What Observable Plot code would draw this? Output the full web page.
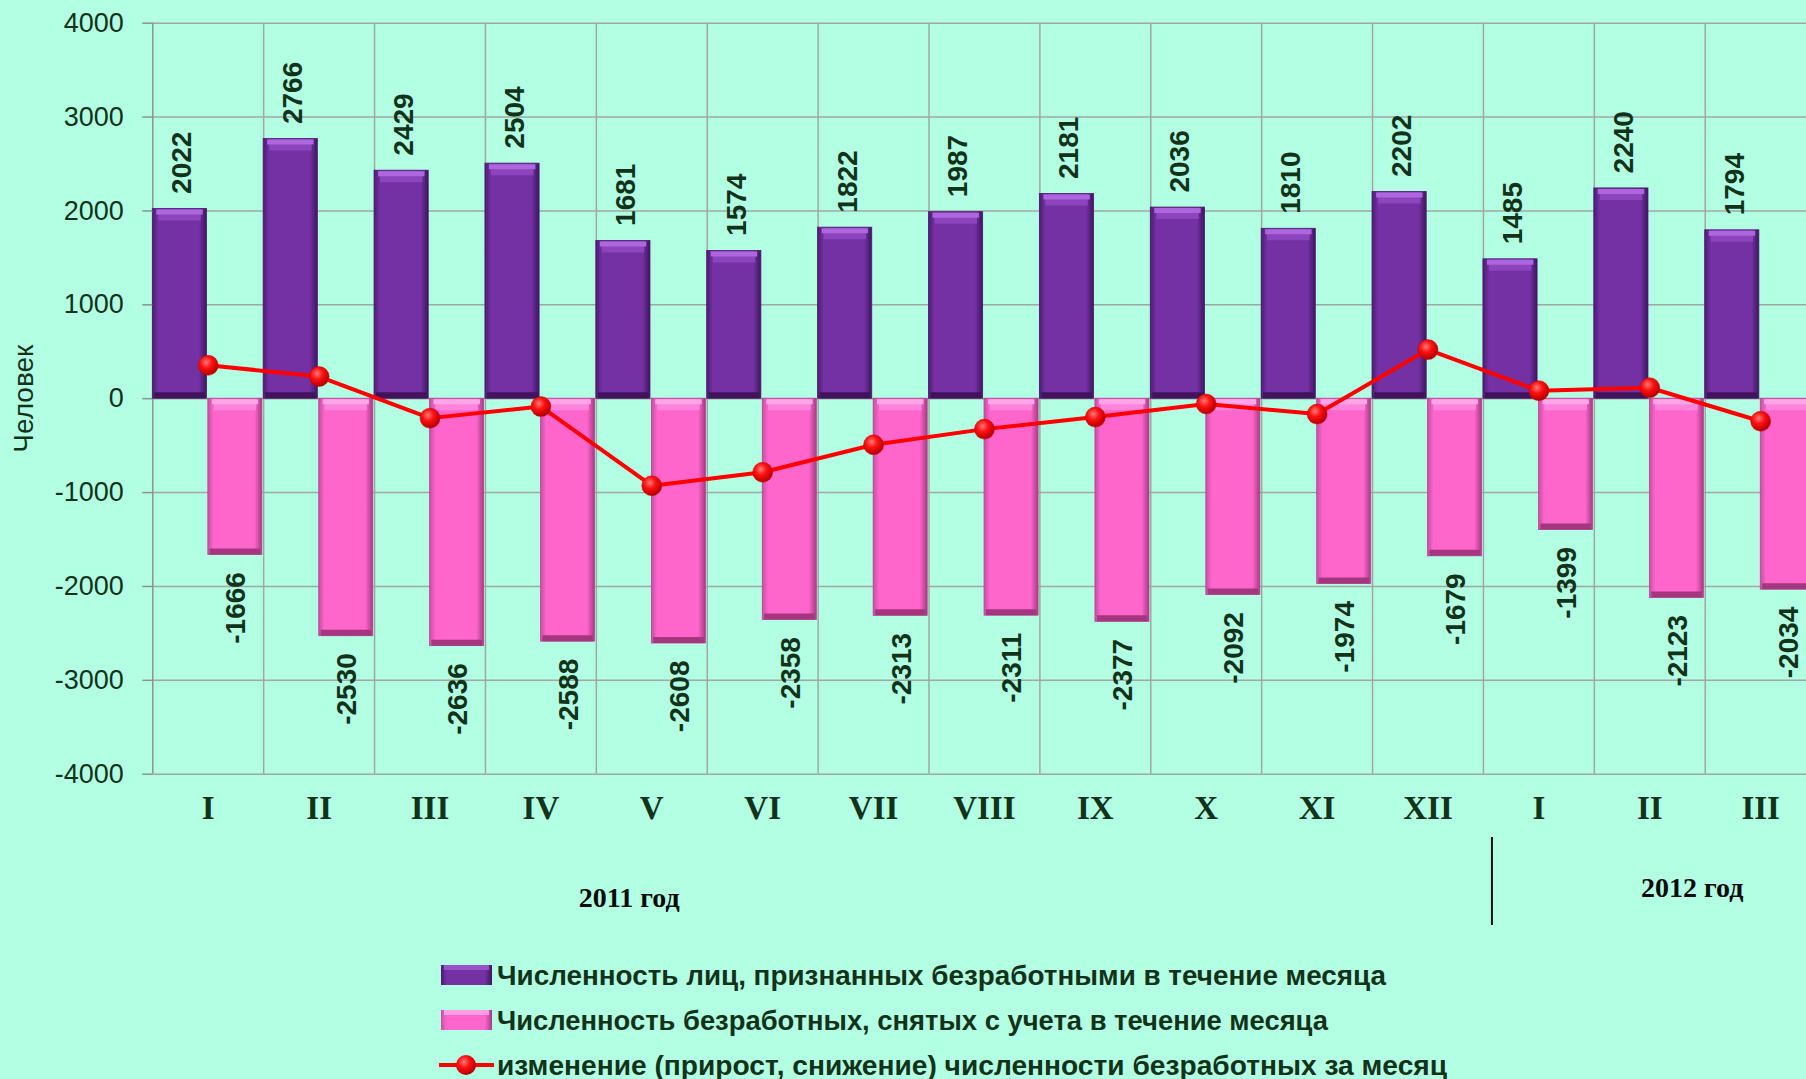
<!DOCTYPE html>
<html>
<head>
<meta charset="utf-8">
<script src="https://cdn.jsdelivr.net/npm/d3@7"></script>
<script src="https://cdn.jsdelivr.net/npm/@observablehq/plot@0.6"></script>
<style>
  html, body { margin: 0; padding: 0; background: #b3ffe3; overflow: hidden; }
  #chart svg { display: block; }
  #legend { display: block; }
</style>
</head>
<body>
<div id="chart"></div>
<svg id="legend" width="1806" height="139"></svg>
<script>
// ---- data ----
const months = ["I","II","III","IV","V","VI","VII","VIII","IX","X","XI","XII","I","II","III"];
const yearOf = [2011,2011,2011,2011,2011,2011,2011,2011,2011,2011,2011,2011,2012,2012,2012];
const registered = [2022,2766,2429,2504,1681,1574,1822,1987,2181,2036,1810,2202,1485,2240,1794];
const removed = [-1666,-2530,-2636,-2588,-2608,-2358,-2313,-2311,-2377,-2092,-1974,-1679,-1399,-2123,-2034];
const change = [356,236,-207,-84,-927,-784,-491,-324,-196,-56,-164,523,86,117,-240];
const yTicks = [-4000,-3000,-2000,-1000,0,1000,2000,3000,4000];
const yearLabels = [{key: "2011-V", text: "2011 год"}, {key: "2012-II", text: "2012 год"}];
const legendLabels = [
  "Численность лиц, признанных безработными в течение месяца",
  "Численность безработных, снятых с учета в течение месяца",
  "изменение (прирост, снижение) численности безработных за месяц"
];

const keys = months.map((m, i) => `${yearOf[i]}-${m}`);
const rows = keys.map((k, i) => ({key: k, reg: registered[i], rem: removed[i], chg: change[i]}));

// ---- layout ----
const X0 = 152.3, X1 = 1815.6;
const bw = (X1 - X0) / keys.length;
const gridColor = "#9ea8a2";
const textColor = "#12331a";
const purpleIn = {insetLeft: 0, insetRight: bw / 2 + 1.3};
const pinkIn = {insetLeft: bw / 2 + 0.1, insetRight: 1.3};

const chart = Plot.plot({
  width: 1806,
  height: 940,
  marginLeft: X0, marginTop: 22.7, marginBottom: 166.3, marginRight: 0,
  style: {background: "transparent", fontFamily: "Liberation Sans, Arial, sans-serif", overflow: "visible"},
  x: {type: "band", domain: keys, range: [X0, X1], padding: 0, round: false},
  y: {domain: [-4000, 4000], range: [773.7, 22.7]},
  marks: [
    Plot.ruleY(yTicks, {stroke: gridColor, strokeWidth: 1.5}),
    Plot.ruleX(keys.slice(1), {dx: -bw / 2, stroke: gridColor, strokeWidth: 1.5}),
    Plot.ruleX(keys.slice(0, 1), {dx: -bw / 2, stroke: "#8a948f", strokeWidth: 1.5}),
    // bars
    Plot.barY(rows, {x: "key", y: "reg", fill: "url(#gPurple)", stroke: "#4a1a6c", strokeWidth: 0.8, ...purpleIn}),
    Plot.barY(rows, {x: "key", y: "rem", fill: "url(#gPink)", stroke: "#b8428f", strokeWidth: 0.8, ...pinkIn}),
    // bevel highlights
    Plot.tickY(rows, {x: "key", y: "reg", dy: 6, stroke: "#8c45bd", strokeWidth: 11, insetLeft: 6, insetRight: bw / 2 + 7}),
    Plot.tickY(rows, {x: "key", y: "reg", dy: 3, stroke: "#ad66dd", strokeWidth: 5, insetLeft: 4, insetRight: bw / 2 + 5}),
    Plot.tickY(rows, {x: "key", y: 0, dy: -3.5, stroke: "#40135c", strokeWidth: 6, insetLeft: 2, insetRight: bw / 2 + 3}),
    Plot.tickY(rows, {x: "key", y: 0, dy: 6, stroke: "#ff85dc", strokeWidth: 11, insetLeft: bw / 2 + 6, insetRight: 7}),
    Plot.tickY(rows, {x: "key", y: 0, dy: 3, stroke: "#ffa6ea", strokeWidth: 5, insetLeft: bw / 2 + 4, insetRight: 5}),
    Plot.tickY(rows, {x: "key", y: "rem", dy: -3.5, stroke: "#a3367f", strokeWidth: 6, insetLeft: bw / 2 + 2, insetRight: 3}),
    // change line
    Plot.lineY(rows, {x: "key", y: "chg", stroke: "#ff0000", strokeWidth: 4}),
    Plot.dot(rows, {x: "key", y: "chg", r: 10, fill: "url(#gRed)", stroke: "#d00000", strokeWidth: 0.5}),
    // value labels
    Plot.text(rows, {x: "key", y: "reg", text: d => `${d.reg}`, rotate: -90, textAnchor: "start", dx: -26, dy: -15,
      fontSize: 28, fontWeight: "bold", fill: textColor}),
    Plot.text(rows, {x: "key", y: "rem", text: d => `${d.rem}`, rotate: -90, textAnchor: "end", dx: 28, dy: 17,
      fontSize: 28, fontWeight: "bold", fill: textColor}),
    // axes
    Plot.axisY({ticks: yTicks, tickSize: 10, tickPadding: 19, fontSize: 27, tickFormat: d => `${d}`,
      stroke: "#8a948f", fill: textColor, strokeWidth: 1.5, label: null}),
    Plot.axisX({tickSize: 0, tickPadding: 21, fontSize: 33, fontWeight: "bold", fontFamily: "Liberation Serif, Times New Roman, serif",
      tickFormat: k => k.split("-")[1], fill: textColor, label: null}),
    Plot.text(["Человек"], {frameAnchor: "left", textAnchor: "middle", dx: -129, rotate: -90, fontSize: 28, fill: textColor})
  ]
});
document.getElementById("chart").appendChild(chart);

// gradients
function addDefs(svg) {
  const defs = svg.insert("defs", ":first-child");
  const lin = (id, stops) => {
    const g = defs.append("linearGradient").attr("id", id).attr("x1", 0).attr("x2", 1).attr("y1", 0).attr("y2", 0);
    stops.forEach(([o, c]) => g.append("stop").attr("offset", o).attr("stop-color", c));
  };
  lin("gPurple", [["0%", "#4c1c70"], ["11%", "#7331a3"], ["86%", "#7331a3"], ["100%", "#3f1560"]]);
  lin("gPink", [["0%", "#c64ea3"], ["11%", "#ff66cc"], ["86%", "#ff66cc"], ["100%", "#a83a84"]]);
  const r = defs.append("radialGradient").attr("id", "gRed").attr("cx", "40%").attr("cy", "35%").attr("r", "65%");
  [["0%", "#ff7a7a"], ["45%", "#ff1010"], ["100%", "#b00000"]].forEach(([o, c]) => r.append("stop").attr("offset", o).attr("stop-color", c));
}
const svgSel = d3.select(chart);
addDefs(svgSel);

// year labels, positioned with the x scale
const xs = chart.scale("x");
const yLab = [[yearLabels[0], -22, 907], [yearLabels[1], 43, 897]];
yLab.forEach(([d, dx, y]) => {
  svgSel.append("text").attr("x", xs.apply(d.key) + bw / 2 + dx).attr("y", y).attr("text-anchor", "middle")
    .attr("font-family", "Liberation Serif, Times New Roman, serif").attr("font-weight", "bold").attr("font-size", 28)
    .attr("fill", "#0a0a0a").text(d.text);
});
// separator between years
const sepX = xs.apply("2012-I") + 9;
svgSel.append("line").attr("x1", sepX).attr("x2", sepX).attr("y1", 837).attr("y2", 925)
  .attr("stroke", "#111").attr("stroke-width", 2);

// legend
const leg = d3.select("#legend");
addDefs(leg);
const rowsY = [35, 80, 125];
const lens = [889, 831, 950];
leg.append("rect").attr("x", 441).attr("y", rowsY[0] - 10).attr("width", 51).attr("height", 20).attr("fill", "url(#gPurple)");
leg.append("rect").attr("x", 444).attr("y", rowsY[0] - 10).attr("width", 45).attr("height", 5).attr("fill", "#9a52cc");
leg.append("rect").attr("x", 441).attr("y", rowsY[1] - 10).attr("width", 51).attr("height", 20).attr("fill", "url(#gPink)");
leg.append("rect").attr("x", 444).attr("y", rowsY[1] - 10).attr("width", 45).attr("height", 5).attr("fill", "#ff9ee6");
leg.append("line").attr("x1", 439).attr("x2", 494).attr("y1", rowsY[2]).attr("y2", rowsY[2]).attr("stroke", "#ff0000").attr("stroke-width", 4);
leg.append("circle").attr("cx", 466).attr("cy", rowsY[2]).attr("r", 10).attr("fill", "url(#gRed)");
legendLabels.forEach((t, i) => {
  leg.append("text").attr("x", 497).attr("y", rowsY[i] + 10)
    .attr("font-family", "Liberation Sans, Arial, sans-serif").attr("font-weight", "bold").attr("font-size", 28)
    .attr("textLength", lens[i]).attr("lengthAdjust", "spacingAndGlyphs")
    .attr("fill", textColor).text(t);
});
</script>
</body>
</html>
